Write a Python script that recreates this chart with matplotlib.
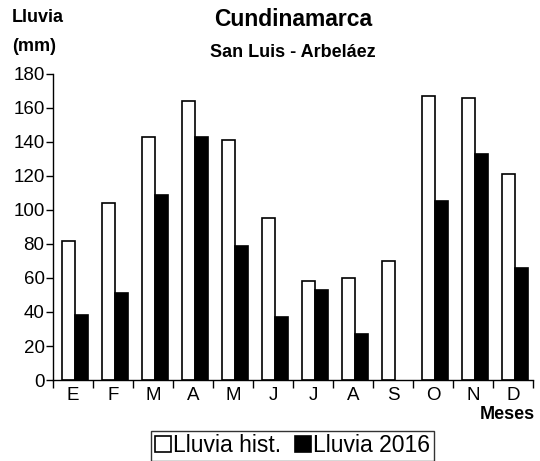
import numpy as np
import matplotlib
matplotlib.use('Agg')
import matplotlib.pyplot as plt
from matplotlib.ticker import FixedLocator

plt.rcParams['font.family'] = ['Liberation Sans', 'DejaVu Sans']

# Data
months = ['E', 'F', 'M', 'A', 'M', 'J', 'J', 'A', 'S', 'O', 'N', 'D']
lluvia_hist = [82, 104, 143, 164, 141, 95, 58, 60, 70, 167, 166, 121]
lluvia_2016 = [38, 51, 109, 143, 79, 37, 53, 27, 0, 105, 133, 66]

fig = plt.figure(figsize=(5.4, 4.61), dpi=100)
ax = fig.add_axes([0.098, 0.1757, 0.889, 0.6638])

x = np.arange(len(months)) + 0.5
w = 0.32
ax.bar(x - w / 2 + 0.05, lluvia_hist, width=w, color='white', edgecolor='black',
       linewidth=1.2, label='Lluvia hist.')
bars = ax.bar(x + w / 2 + 0.05, lluvia_2016, width=w, color='black', edgecolor='black',
              linewidth=1.2, label='Lluvia 2016')
# no sliver for empty months
for b, v in zip(bars, lluvia_2016):
    if v == 0:
        b.set_visible(False)

ax.set_xlim(0, 12)
ax.set_ylim(0, 180)
ax.set_yticks(np.arange(0, 181, 20))
ax.tick_params(axis='y', labelsize=13.5, length=5, width=1, direction='out', pad=1)

# ticks at the boundaries, labels at the centres
ax.xaxis.set_major_locator(FixedLocator(np.arange(0, 13)))
ax.xaxis.set_minor_locator(FixedLocator(x))
ax.xaxis.set_major_formatter(plt.NullFormatter())
ax.set_xticks(x, months, minor=True)
ax.tick_params(axis='x', which='major', length=6, width=1, direction='out')
ax.tick_params(axis='x', which='minor', length=0, labelsize=13.5, pad=5)

for s in ['top', 'right']:
    ax.spines[s].set_visible(False)
for s in ['left', 'bottom']:
    ax.spines[s].set_linewidth(1)

fig.text(0.543, 0.957, 'Cundinamarca', ha='center', va='center', fontsize=16.5, fontweight='bold')
fig.text(0.543, 0.887, 'San Luis - Arbeláez', ha='center', va='center', fontsize=13, fontweight='bold')
fig.text(0.022, 0.962, 'Lluvia', ha='left', va='center', fontsize=13, fontweight='bold')
fig.text(0.022, 0.900, '(mm)', ha='left', va='center', fontsize=13, fontweight='bold')
fig.text(0.99, 0.1, 'Meses', ha='right', va='center', fontsize=13, fontweight='bold')

leg = fig.legend(loc='center', bbox_to_anchor=(0.542, 0.033), ncol=2, fontsize=16.5,
                 frameon=True, fancybox=False, edgecolor='black', handlelength=0.7,
                 handleheight=0.7, handletextpad=0.1, columnspacing=0.6,
                 borderpad=0.15, borderaxespad=0)
leg.get_frame().set_linewidth(1)

fig.savefig('out.png', dpi=100)
